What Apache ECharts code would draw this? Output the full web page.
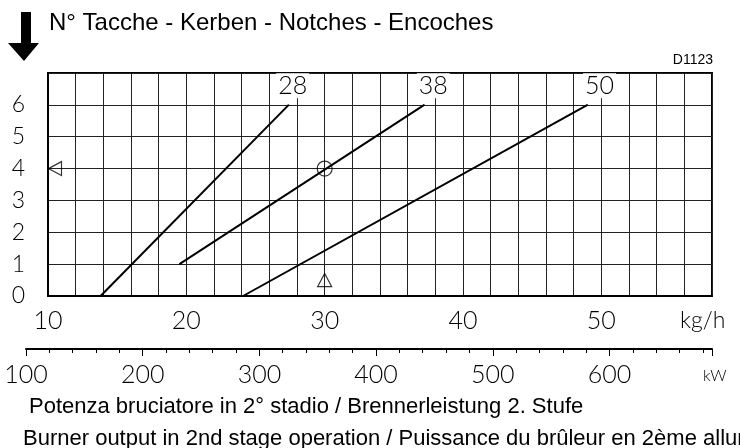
<!DOCTYPE html>
<html>
<head>
<meta charset="utf-8">
<script src="https://cdn.jsdelivr.net/npm/echarts@6/dist/echarts.min.js"></script>
<style>
html, body { margin: 0; padding: 0; background: #fff; }
#chart { width: 740px; height: 448px; }
</style>
</head>
<body>
<div id="chart"></div>
<script>
// notches (y) against burner output in kg/h, with a kW scale underneath
const notchTicks = [0, 1, 2, 3, 4, 5, 6];
const kgTicks = [10, 20, 30, 40, 50];
const kwTicks = [100, 200, 300, 400, 500, 600];
const curveNames = ['28', '38', '50'];
const curve28 = [[13.8, 0], [27.4, 6]];
const curve38 = [[19.5, 1], [37.2, 6]];
const curve50 = [[24.1, 0], [49.0, 6]];
const circlePoint = [[30, 4]];
const trianglePoint = [[30, 0.5]];
const notchMark = [[10, 4]];
const kgMin = 10, kgMax = 58;
const kwPerKg = 11.86;

const thinFont = 'Lato';
const thinWeight = 300;
const textFont = "'Liberation Sans', Arial, sans-serif";

let chart = echarts.init(document.getElementById('chart'));

function curve(name, pts, off) {
    return {
        type: 'line',
        xAxisIndex: 0,
        yAxisIndex: 0,
        symbol: 'circle',
        symbolSize: 1,
        itemStyle: { color: '#000' },
        lineStyle: { color: '#000', width: 2 },
        z: 3,
        data: pts.map((p, i) => i < pts.length - 1 ? p : {
            value: p,
            label: {
                show: true,
                formatter: name,
                position: 'top',
                distance: 6,
                offset: off,
                color: '#000',
                fontFamily: thinFont,
                fontWeight: thinWeight,
                fontSize: 25,
                backgroundColor: '#fff',
                padding: [0, 2, 0, 2]
            }
        })
    };
}

function hollow(pts, sym, size, extra) {
    return Object.assign({
        type: 'scatter',
        xAxisIndex: 0,
        yAxisIndex: 0,
        symbol: sym,
        symbolSize: size,
        clip: false,
        z: 4,
        itemStyle: { color: 'rgba(0,0,0,0)', borderColor: '#000', borderWidth: 1.2 },
        data: pts
    }, extra || {});
}

let option = {
    animation: false,
    backgroundColor: '#fff',
    grid: [
        { left: 48, top: 73, width: 664, height: 223, show: true, borderColor: '#000', borderWidth: 2, outerBoundsMode: 'none' },
        { left: 26, right: 28, top: 330, height: 19, show: false, outerBoundsMode: 'none' }
    ],
    xAxis: [
        {
            gridIndex: 0, type: 'value', min: kgMin, max: kgMax, interval: 2,
            axisLine: { show: true, lineStyle: { color: '#000', width: 2 } },
            axisTick: { show: false },
            splitLine: { show: true, lineStyle: { color: '#222', width: 1 } },
            axisLabel: {
                margin: 12, color: '#000', fontFamily: thinFont, fontWeight: thinWeight, fontSize: 25,
                formatter: v => kgTicks.includes(v) ? String(v) : ''
            }
        },
        {
            gridIndex: 1, type: 'value', position: 'bottom', min: 100, max: kgMax * kwPerKg, interval: 20,
            axisLine: { show: true, lineStyle: { color: '#000', width: 2 } },
            axisTick: { show: true, length: 4, lineStyle: { color: '#000' } },
            splitLine: { show: false },
            axisLabel: { show: false }
        },
        {
            gridIndex: 1, type: 'value', position: 'bottom', min: 100, max: kgMax * kwPerKg, interval: 100,
            axisLine: { show: false },
            axisTick: { show: true, length: 7, lineStyle: { color: '#000' } },
            splitLine: { show: false },
            axisLabel: {
                margin: 13, color: '#000', fontFamily: thinFont, fontWeight: thinWeight, fontSize: 25,
                formatter: v => kwTicks.includes(v) ? String(v) : ''
            }
        }
    ],
    yAxis: [
        {
            gridIndex: 0, type: 'value', min: 0, max: 7, interval: 1,
            axisLine: { show: true, lineStyle: { color: '#000', width: 2 } },
            axisTick: { show: false },
            splitLine: { show: true, lineStyle: { color: '#222', width: 1 } },
            axisLabel: {
                margin: 23, color: '#000', fontFamily: thinFont, fontWeight: thinWeight, fontSize: 23,
                formatter: v => notchTicks.includes(v) ? String(v) : ''
            }
        },
        { gridIndex: 1, type: 'value', show: false }
    ],
    graphic: [
        {
            type: 'polygon', z: 10,
            shape: { points: [[21, 12], [31, 12], [31, 43], [39, 43], [24, 61], [8, 43], [21, 43]] },
            style: { fill: '#000' }
        },
        { type: 'text', left: 49, top: 11, style: { text: 'N° Tacche - Kerben - Notches - Encoches', font: '24px ' + textFont, fill: '#000' } },
        { type: 'text', right: 27, top: 53, style: { text: 'D1123', font: '14px ' + textFont, fill: '#000' } },
        { type: 'text', left: 680, top: 309, style: { text: 'kg/h', font: thinWeight + ' 23px ' + thinFont, fill: '#000' } },
        { type: 'text', left: 703, top: 368, style: { text: 'kW', font: thinWeight + ' 16px ' + thinFont, fill: '#000' } },
        { type: 'text', left: 29, top: 396, style: { text: 'Potenza bruciatore in 2° stadio / Brennerleistung 2. Stufe', font: '22px ' + textFont, fill: '#000' } },
        { type: 'text', left: 23, top: 428, style: { text: 'Burner output in 2nd stage operation / Puissance du brûleur en 2ème allure', font: '22px ' + textFont, fill: '#000' } }
    ],
    series: [
        curve(curveNames[0], curve28, [4, 0]),
        curve(curveNames[1], curve38, [9, 0]),
        curve(curveNames[2], curve50, [12, 0]),
        hollow(circlePoint, 'circle', 15),
        hollow(trianglePoint, 'triangle', [14, 13]),
        hollow(notchMark, 'triangle', [14, 13], { symbolRotate: 90, symbolOffset: [7, 0] })
    ]
};

chart.setOption(option);
</script>
</body>
</html>
